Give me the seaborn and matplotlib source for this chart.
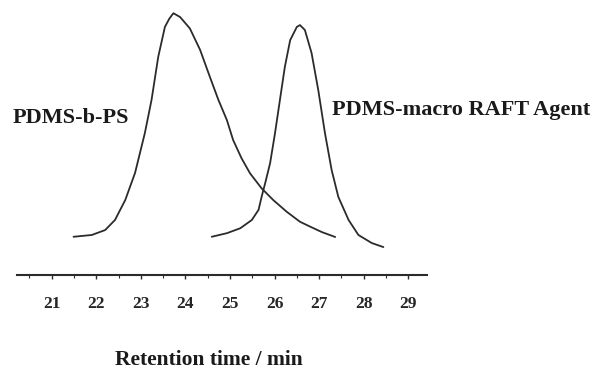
import numpy as np
import pandas as pd
import matplotlib
matplotlib.use("Agg")
import matplotlib.pyplot as plt
import seaborn as sns
from matplotlib.ticker import MultipleLocator

# GPC traces (retention time in min, normalised signal)
block_time = [21.49, 21.90, 22.20, 22.42, 22.65, 22.87, 23.09, 23.24, 23.39, 23.54,
              23.64, 23.73, 23.88, 24.10, 24.33, 24.55, 24.74, 24.93, 25.07, 25.26,
              25.45, 25.71, 25.97, 26.27, 26.57, 26.80, 27.06, 27.36]
block_signal = [0.001, 0.009, 0.031, 0.076, 0.165, 0.286, 0.464, 0.612, 0.804, 0.938,
                0.975, 0.999, 0.982, 0.931, 0.835, 0.714, 0.612, 0.522, 0.433, 0.351,
                0.284, 0.217, 0.165, 0.113, 0.068, 0.046, 0.022, 0.000]

macro_time = [24.59, 24.93, 25.23, 25.49, 25.64, 25.71, 25.79, 25.90, 26.01, 26.12,
              26.23, 26.35, 26.50, 26.57, 26.68, 26.83, 26.98, 27.13, 27.28, 27.43,
              27.66, 27.88, 28.18, 28.44]
macro_signal = [0.001, 0.017, 0.039, 0.076, 0.121, 0.180, 0.241, 0.330, 0.464, 0.612,
                0.759, 0.879, 0.938, 0.946, 0.924, 0.821, 0.656, 0.464, 0.299, 0.179,
                0.076, 0.009, -0.027, -0.045]

tick_values = [21, 22, 23, 24, 25, 26, 27, 28, 29]
block_label = "PDMS-b-PS"
macro_label = "PDMS-macro RAFT Agent"
x_title = "Retention time / min"

sns.set_style("white")
plt.rcParams["font.family"] = ["Liberation Serif", "DejaVu Serif"]

fig = plt.figure(figsize=(5.92, 3.70), dpi=100)
ax = fig.add_axes([0.0282, 0.2568, 0.6936, 0.7432])

line_color = "#2b2b2b"
block_df = pd.DataFrame({"time": block_time, "signal": block_signal})
macro_df = pd.DataFrame({"time": macro_time, "signal": macro_signal})
sns.lineplot(data=block_df, x="time", y="signal", ax=ax, color=line_color,
             linewidth=1.3, estimator=None, sort=False)
sns.lineplot(data=macro_df, x="time", y="signal", ax=ax, color=line_color,
             linewidth=1.3, estimator=None, sort=False)

ax.set_xlim(20.215, 29.426)
ax.set_ylim(-0.1696, 1.058)

for side in ["left", "top", "right"]:
    ax.spines[side].set_visible(False)
ax.spines["bottom"].set_linewidth(1.5)
ax.spines["bottom"].set_color(line_color)

ax.set_yticks([])
ax.set_xticks(tick_values)
ax.xaxis.set_minor_locator(MultipleLocator(0.5))
ax.tick_params(axis="x", which="both", bottom=True)
ax.tick_params(axis="x", which="major", direction="out", length=3.2, width=1,
               color=line_color, pad=12, labelsize=12.5)
ax.tick_params(axis="x", which="minor", direction="out", length=2, width=0.8,
               color=line_color)
for lab in ax.get_xticklabels():
    lab.set_fontweight("bold")
ax.set_xlabel("")
ax.set_ylabel("")

ax.text(0.468, -0.309, x_title, transform=ax.transAxes, ha="center", va="center",
        fontsize=15.5, fontweight="bold", color="#1a1a1a")
fig.text(0.022, 0.681, block_label, ha="left", va="center",
         fontsize=16, fontweight="bold", color="#1a1a1a")
fig.text(0.561, 0.703, macro_label, ha="left", va="center",
         fontsize=16, fontweight="bold", color="#1a1a1a")

fig.savefig("out.png", dpi=100)
